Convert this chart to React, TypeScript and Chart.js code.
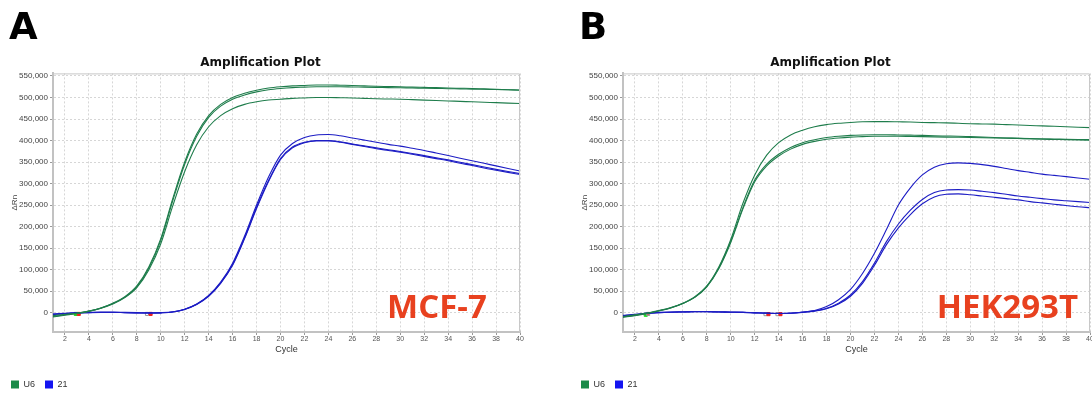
import React, { useEffect, useRef } from "react";
import { Chart, registerables } from "chart.js";

Chart.register(...registerables);

// ---------- data ----------
const CYCLES = [1, 2, 3, 4, 5, 6, 7, 8, 9, 10, 11, 12, 13, 14, 15, 16, 17, 18, 19, 20, 21, 22, 23, 24, 25, 26, 27, 28, 29, 30, 31, 32, 33, 34, 35, 36, 37, 38, 39, 40];
const X_TICKS = [2, 4, 6, 8, 10, 12, 14, 16, 18, 20, 22, 24, 26, 28, 30, 32, 34, 36, 38, 40];
const Y_TICKS = [0, 50000, 100000, 150000, 200000, 250000, 300000, 350000, 400000, 450000, 500000, 550000];
const LEGEND_LABELS = ["U6", "21"];

// Panel A (MCF-7)
const A_U6_1 = [-7000, -4000, -1000, 4000, 11000, 22000, 37000, 62000, 106000, 172000, 265000, 350000, 415000, 458000, 484000, 500000, 510000, 517000, 522000, 525000, 527000, 528000, 529000, 529000, 528500, 528000, 527000, 526000, 525500, 525000, 524000, 523500, 523000, 522000, 521500, 521000, 520000, 519000, 518000, 517000];
const A_U6_2 = [-9000, -5000, -1500, 3500, 10500, 21000, 36000, 60000, 103000, 168000, 260000, 345000, 410000, 454000, 480000, 496000, 506000, 513000, 518000, 521000, 523000, 524000, 525000, 525000, 525000, 524500, 524000, 523500, 523000, 522500, 522000, 521500, 521000, 520500, 520000, 519500, 519000, 518500, 518000, 517500];
const A_U6_3 = [-10000, -6000, -2000, 3000, 10000, 20000, 35000, 58000, 99000, 160000, 248000, 328000, 390000, 432000, 458000, 474000, 484000, 490000, 494000, 496000, 498000, 499000, 500000, 500000, 499500, 499000, 498000, 497000, 496500, 496000, 495000, 494000, 493000, 492000, 491000, 490000, 489000, 488000, 487000, 486000];
const A_21_1 = [-3000, -1500, 0, 500, 1000, 1000, 500, 0, -500, 0, 2000, 8000, 20000, 40000, 71000, 115000, 178000, 250000, 315000, 366000, 393000, 407000, 413000, 414000, 411000, 406000, 401000, 396000, 391000, 387000, 382000, 377000, 371000, 365000, 359000, 353000, 347000, 341000, 335000, 329000];
const A_21_2 = [-4000, -2000, -500, 0, 500, 500, 0, -500, -1000, -500, 1500, 7500, 19000, 38000, 68000, 110000, 172000, 242000, 305000, 356000, 383000, 395000, 399000, 399000, 396000, 391000, 386000, 381000, 377000, 373000, 368000, 363000, 358000, 353000, 347000, 342000, 336000, 331000, 326000, 321000];
const A_21_3 = [-4500, -2500, -1000, 0, 500, 500, 0, -500, -1000, -500, 1500, 7800, 19500, 39000, 69000, 112000, 174000, 245000, 307000, 358000, 385000, 396000, 400000, 400000, 397000, 392000, 387500, 383000, 378500, 374500, 370000, 365000, 360000, 355000, 349500, 344000, 338500, 333000, 328000, 323000];
const A_CT_X = [2.9, 3.15, 8.85, 9.15];
const A_CT_Y = [-3000, -3000, -3000, -3000];

// Panel B (HEK293T)
const B_U6_1 = [-9000, -5000, -1000, 5000, 12000, 22000, 37000, 62000, 106000, 170000, 253000, 320000, 366000, 395000, 413000, 424000, 432000, 437000, 440000, 442000, 443500, 444000, 444000, 443500, 443000, 442000, 441500, 441000, 440000, 439000, 438500, 438000, 437000, 436000, 435000, 434000, 433000, 432000, 431000, 430000];
const B_U6_2 = [-10000, -6000, -1500, 4500, 11500, 21500, 36000, 61000, 104000, 166000, 243000, 308000, 345000, 368000, 384000, 395000, 402000, 407000, 410000, 412000, 413000, 413500, 413500, 413000, 412500, 412000, 411000, 410500, 410000, 409000, 408000, 407000, 406000, 405000, 404000, 403000, 402500, 402000, 401500, 401000];
const B_U6_3 = [-11000, -7000, -2000, 4000, 11000, 21000, 35500, 60000, 102000, 163000, 240000, 304000, 341000, 364000, 380000, 391000, 398000, 403000, 406000, 408000, 409000, 410000, 410000, 410000, 409500, 409000, 408500, 408000, 407500, 407000, 406500, 406000, 405500, 405000, 404500, 404000, 403500, 403000, 402500, 402000];
const B_21_1 = [-6000, -4000, -1000, 500, 1500, 2000, 2500, 2500, 2000, 1500, 1000, 0, -1000, -1500, -1000, 1500, 5000, 14000, 30000, 54000, 91000, 138000, 193000, 250000, 290000, 320000, 338000, 346000, 348000, 347000, 344000, 340000, 335000, 330000, 326000, 322000, 319000, 316000, 313000, 310000];
const B_21_2 = [-7000, -5000, -1500, 0, 1000, 1500, 2000, 2000, 1500, 1000, 500, -500, -1500, -2000, -1500, 1000, 4000, 10000, 22000, 41000, 72000, 115000, 165000, 206000, 238000, 263000, 279000, 285000, 286000, 285000, 282000, 279000, 275000, 271000, 268000, 265000, 262000, 260000, 258000, 256000];
const B_21_3 = [-8000, -5500, -2000, 0, 1000, 1500, 2000, 2000, 1500, 1000, 500, -500, -1500, -2000, -1500, 500, 3500, 9000, 20000, 38000, 68000, 110000, 158000, 197000, 228000, 253000, 269000, 275000, 276000, 274000, 271000, 268000, 265000, 262000, 258000, 255000, 252000, 249000, 246000, 244000];
const B_CT_X = [2.9, 3.1, 12.9, 13.15, 13.9, 14.15];
const B_CT_Y = [-5000, -3000, -3500, -3500, -3500, -3500];

// ---------- styles ----------
const GREEN_LINE = "#1f7d4c";
const BLUE_LINE = "#1c1cc4";
const GREEN_KEY = "#1a8a48";
const BLUE_KEY = "#1414f0";
const RED_TEXT = "#e8411f";
const SANS = "'Liberation Sans', Arial, sans-serif";

type PanelProps = {
  letter: string;
  tag: string;
  tagX: number;
  tagY: number;
  u6: number[][];
  mir: number[][];
  ctX: number[];
  ctY: number[];
  ctFill: string[];
  ctStroke: string[];
};

function Panel(p: PanelProps) {
  const ref = useRef<HTMLCanvasElement | null>(null);
  useEffect(() => {
    if (!ref.current) return;
    const toPts = (arr: number[]) => arr.map((v, i) => ({ x: CYCLES[i], y: v }));
    const lineDs = (arr: number[], color: string, label: string) => ({
      type: "line" as const,
      label,
      data: toPts(arr),
      borderColor: color,
      backgroundColor: color,
      borderWidth: 1.1,
      pointRadius: 0,
      tension: 0.35,
      cubicInterpolationMode: "monotone" as const,
      fill: false,
    });
    const decor = {
      id: "decor",
      afterDraw(chart: any) {
        const { ctx, chartArea } = chart;
        const xs = chart.scales.x;
        const ys = chart.scales.y;
        ctx.save();
        // frame top/right
        ctx.strokeStyle = "#c8c8c8";
        ctx.lineWidth = 1;
        ctx.beginPath();
        ctx.moveTo(chartArea.left, chartArea.top + 0.5);
        ctx.lineTo(chartArea.right - 0.5, chartArea.top + 0.5);
        ctx.lineTo(chartArea.right - 0.5, chartArea.bottom);
        ctx.stroke();
        // panel letter
        ctx.fillStyle = "#000";
        ctx.font = "bold 37px 'DejaVu Sans', sans-serif";
        ctx.textBaseline = "alphabetic";
        ctx.textAlign = "left";
        ctx.fillText(p.letter, 9, 39);
        // cell line tag
        ctx.fillStyle = RED_TEXT;
        ctx.font = "bold 33px 'Open Sans', sans-serif";
        ctx.fillText(p.tag, xs.getPixelForValue(p.tagX), ys.getPixelForValue(p.tagY));
        ctx.restore();
      },
    };
    const chart = new Chart(ref.current, {
      type: "line",
      data: {
        datasets: [
          ...p.u6.map((a) => lineDs(a, GREEN_LINE, "U6")),
          ...p.mir.map((a) => lineDs(a, BLUE_LINE, "21")),
          {
            type: "scatter" as const,
            label: "Ct",
            data: p.ctX.map((x, i) => ({ x, y: p.ctY[i] })),
            pointStyle: "rect",
            pointRadius: 2.2,
            backgroundColor: p.ctFill,
            borderColor: p.ctStroke,
            borderWidth: 1,
            showLine: false,
          } as any,
        ],
      },
      options: {
        responsive: false,
        animation: false,
        devicePixelRatio: 1,
        events: [],
        layout: { padding: { left: 1, right: 40, top: 46, bottom: -3 } },
        plugins: {
          title: {
            display: true,
            text: "Amplification Plot",
            fullSize: true,
            font: { family: "'DejaVu Sans', sans-serif", weight: "bold", size: 12 },
            color: "#111",
            padding: { top: 10, bottom: 3 },
          },
          legend: {
            position: "bottom",
            align: "start",
            labels: {
              boxWidth: 8,
              boxHeight: 8,
              padding: 10,
              font: { family: SANS, size: 9 },
              color: "#333",
              generateLabels: () =>
                LEGEND_LABELS.map((t, i) => ({
                  text: t,
                  fillStyle: i === 0 ? GREEN_KEY : BLUE_KEY,
                  strokeStyle: i === 0 ? GREEN_KEY : BLUE_KEY,
                  lineWidth: 0,
                  hidden: false,
                  datasetIndex: i,
                  fontColor: "#333",
                })),
            },
          },
          tooltip: { enabled: false },
        },
        scales: {
          x: {
            type: "linear",
            min: 1,
            max: 40,
            afterBuildTicks: (s: any) => {
              s.ticks = X_TICKS.map((v) => ({ value: v }));
            },
            afterFit: (s: any) => {
              s.height = 38;
            },
            ticks: { font: { family: SANS, size: 7 }, color: "#555", padding: 0, maxRotation: 0, autoSkip: false },
            grid: { color: "#d6d6d6", tickLength: 3, tickColor: "#999" },
            border: { color: "#c2c2c2", width: 2, dash: [2, 2] },
            title: {
              display: true,
              text: "Cycle",
              font: { family: SANS, size: 9 },
              color: "#333",
              padding: { top: 0, bottom: 15 },
            },
          },
          y: {
            type: "linear",
            min: -45000,
            max: 556000,
            afterBuildTicks: (s: any) => {
              s.ticks = Y_TICKS.map((v) => ({ value: v }));
            },
            afterFit: (s: any) => {
              s.width = 52;
            },
            ticks: {
              font: { family: SANS, size: 8 },
              color: "#444",
              padding: 2,
              callback: (v: any) => Number(v).toLocaleString("en-US"),
            },
            grid: { color: "#d6d6d6", tickLength: 3, tickColor: "#999" },
            border: { color: "#c2c2c2", width: 2, dash: [2, 2] },
            title: {
              display: true,
              text: "ΔRn",
              font: { family: SANS, size: 8 },
              color: "#444",
              padding: { top: 9, bottom: 0 },
            },
          },
        },
      } as any,
      plugins: [decor],
    });
    return () => chart.destroy();
  }, []);
  return <canvas ref={ref} width={560} height={396} style={{ display: "block" }} />;
}

export default function App() {
  return (
    <div style={{ position: "absolute", left: 0, top: 0, width: 1092, height: 396, overflow: "hidden", background: "#fff" }}>
      <div style={{ position: "absolute", left: 0, top: 0 }}>
        <Panel
          letter="A"
          tag="MCF-7"
          tagX={28.9}
          tagY={-13000}
          u6={[A_U6_1, A_U6_2, A_U6_3]}
          mir={[A_21_1, A_21_2, A_21_3]}
          ctX={A_CT_X}
          ctY={A_CT_Y}
          ctFill={["#22dd22", "#ee2020", "#ffffff", "#ee2020"]}
          ctStroke={["#22dd22", "#ee2020", "#999999", "#ee2020"]}
        />
      </div>
      <div style={{ position: "absolute", left: 570, top: 0 }}>
        <Panel
          letter="B"
          tag="HEK293T"
          tagX={27.2}
          tagY={-13000}
          u6={[B_U6_1, B_U6_2, B_U6_3]}
          mir={[B_21_1, B_21_2, B_21_3]}
          ctX={B_CT_X}
          ctY={B_CT_Y}
          ctFill={["#22dd22", "#cc6666", "#ffffff", "#ee2020", "#ffffff", "#ee2020"]}
          ctStroke={["#22dd22", "#999999", "#999999", "#ee2020", "#999999", "#ee2020"]}
        />
      </div>
    </div>
  );
}
